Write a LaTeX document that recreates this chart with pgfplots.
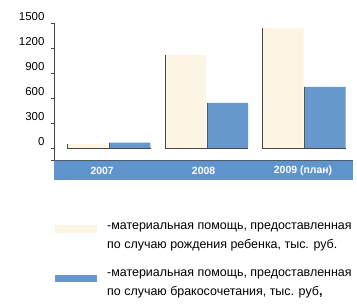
\documentclass[border=0pt]{standalone}
\usepackage{pgfplots}
\pgfplotsset{compat=1.18}
\usepackage{fontspec}
\setmainfont{Liberation Sans}
\definecolor{cream}{RGB}{252,245,228}
\definecolor{barblue}{RGB}{102,152,206}
\definecolor{bandblue}{RGB}{96,148,204}
\definecolor{axgray}{RGB}{70,70,70}
\begin{document}
\begin{tikzpicture}[x=1bp,y=1bp]
\begin{axis}[
  at={(54bp,147bp)}, anchor=south west,
  scale only axis, width=301bp, height=137bp,
  xmin=-0.564, xmax=2.523, ymin=-144, ymax=1500,
  axis y line=left, axis x line=none,
  y axis line style={-, axgray, line width=0.8pt},
  ytick={0,300,600,900,1200,1500},
  extra y ticks={-144}, extra y tick labels={},
  tick align=outside, major tick length=3bp,
  tick style={axgray, line width=0.6pt},
  yticklabel style={font=\fontsize{11.5}{12}\selectfont, yshift=6bp, xshift=-3bp},
  /pgf/number format/assume math mode=true,
  /pgf/number format/1000 sep={},
  ybar=1bp, bar width=41bp,
  clip=false,
]
\fill[bandblue] (axis cs:-0.564,-144) rectangle (axis cs:2.50,-384);
\draw[axgray!70!bandblue, line width=0.8pt] (axis cs:-0.564,-144) -- (axis cs:2.50,-144);
\addplot[fill=cream, draw=none] coordinates {(0,50) (1,1116) (2,1440)};
\addplot[fill=barblue, draw=none] coordinates {(0,65) (1,540) (2,732)};
% shadow edges of the bars
\draw[axgray, line width=0.7pt] (axis cs:-0.426,50) -- (axis cs:-0.426,0) -- (axis cs:0.426,0);
\draw[axgray!80!barblue, line width=0.7pt] (axis cs:0.005,65) -- (axis cs:0.005,0);
\draw[axgray, line width=0.7pt] (axis cs:0.574,1116) -- (axis cs:0.574,0) -- (axis cs:1.426,0);
\draw[axgray!80!barblue, line width=0.7pt] (axis cs:1.005,540) -- (axis cs:1.005,0);
\draw[axgray, line width=0.7pt] (axis cs:1.574,1440) -- (axis cs:1.574,0) -- (axis cs:2.426,0);
\draw[axgray!80!barblue, line width=0.7pt] (axis cs:2.005,732) -- (axis cs:2.005,0);
\node[white, font=\fontsize{10.5}{11}\selectfont\bfseries] at (axis cs:-0.07,-270) {2007};
\node[white, font=\fontsize{10.5}{11}\selectfont\bfseries] at (axis cs:0.97,-270) {2008};
\node[white, font=\fontsize{10.5}{11}\selectfont\bfseries] at (axis cs:1.99,-270) {2009 (план)};
\end{axis}
% legend
\fill[cream] (55,307-233) rectangle (97,307-225);
\fill[barblue] (55,307-282) rectangle (97,307-275);
\node[anchor=north west, align=left, inner sep=0pt, font=\fontsize{12.5}{18.5}\selectfont] at (107,307-223)
  {-материальная помощь, предоставленная\\по случаю рождения ребенка, тыс. руб.};
\node[anchor=north west, align=left, inner sep=0pt, font=\fontsize{12.5}{18.5}\selectfont] at (107,307-270)
  {-материальная помощь, предоставленная\\по случаю бракосочетания, тыс. руб\textbf{,}};
\pgfresetboundingbox
\path[use as bounding box] (0,0) rectangle (357,307);
\end{tikzpicture}
\end{document}
